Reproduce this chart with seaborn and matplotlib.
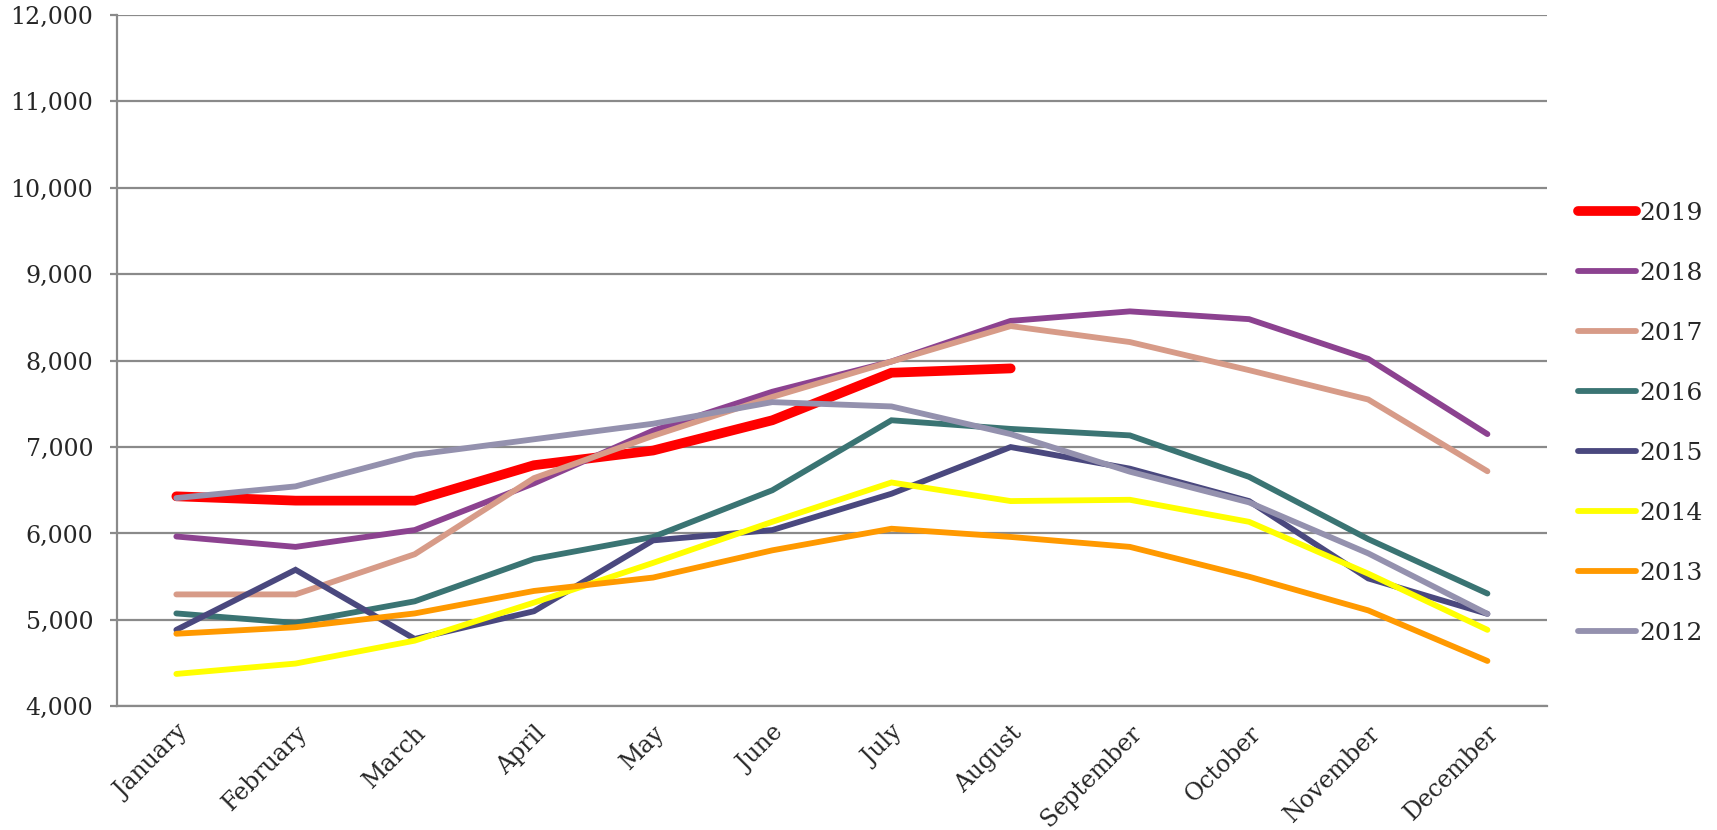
import pandas as pd
import matplotlib
matplotlib.use("Agg")
import matplotlib.pyplot as plt
import seaborn as sns
from matplotlib.ticker import FuncFormatter, FixedLocator

# Data
months = ["January", "February", "March", "April", "May", "June",
          "July", "August", "September", "October", "November", "December"]

y2019 = [6430, 6380, 6380, 6790, 6960, 7310, 7860, 7910]
y2018 = [5965, 5845, 6040, 6580, 7190, 7640, 7990, 8460, 8570, 8480, 8020, 7150]
y2017 = [5295, 5295, 5760, 6640, 7130, 7580, 7990, 8400, 8215, 7890, 7550, 6720]
y2016 = [5075, 4965, 5215, 5705, 5960, 6500, 7310, 7210, 7135, 6655, 5935, 5305]
y2015 = [4885, 5580, 4780, 5100, 5920, 6040, 6460, 7000, 6750, 6375, 5480, 5070]
y2014 = [4375, 4495, 4760, 5200, 5660, 6135, 6590, 6375, 6390, 6135, 5535, 4885]
y2013 = [4840, 4915, 5075, 5335, 5490, 5805, 6055, 5960, 5845, 5500, 5110, 4525]
y2012 = [6410, 6545, 6910, 7090, 7270, 7520, 7470, 7150, 6715, 6360, 5770, 5070]

years = ["2019", "2018", "2017", "2016", "2015", "2014", "2013", "2012"]
series = [y2019, y2018, y2017, y2016, y2015, y2014, y2013, y2012]
colors = ["#FF0000", "#8C4290", "#D79B88", "#3A7473", "#4A487E", "#FFFF00", "#FF9900", "#9491AE"]
widths = [7, 4.2, 4.2, 4.2, 4.2, 4.2, 4.2, 4.2]

sns.set_style("white")
plt.rcParams["font.family"] = ["DejaVu Serif"]

fig = plt.figure(figsize=(17.17, 8.30), dpi=100)
ax = fig.add_axes([0.068, 0.149, 0.833, 0.833])

grid_col = "#8A8A8A"
for yr, vals, col, lw in zip(years, series, colors, widths):
    df = pd.DataFrame({"month": months[:len(vals)], "value": vals})
    sns.lineplot(data=df, x="month", y="value", ax=ax, color=col, linewidth=lw,
                 label=yr, sort=False, solid_capstyle="round", solid_joinstyle="miter")

ax.set_xlim(-0.5, 11.5)
ax.set_ylim(4000, 12000)
ax.set_yticks(range(4000, 12001, 1000))
ax.yaxis.set_major_formatter(FuncFormatter(lambda v, p: f"{int(v):,}"))
ax.yaxis.grid(True, color=grid_col, linewidth=1.6)
ax.set_axisbelow(True)

ax.set_xticks(range(12))
ax.set_xticklabels(months, rotation=45, ha="right", va="top", rotation_mode="anchor")
ax.xaxis.set_minor_locator(FixedLocator([i - 0.5 for i in range(13)]))
ax.tick_params(axis="x", which="major", length=0, pad=11, labelsize=17)
ax.tick_params(axis="x", which="minor", length=5, width=1.6, color=grid_col, direction="out")
ax.tick_params(axis="y", length=5, width=1.6, color=grid_col, pad=12, labelsize=17, left=True)

ax.set_xlabel("")
ax.set_ylabel("")
for side in ["top", "right"]:
    ax.spines[side].set_visible(False)
for side in ["left", "bottom"]:
    ax.spines[side].set_color(grid_col)
    ax.spines[side].set_linewidth(1.6)

leg = ax.legend(loc="upper left", bbox_to_anchor=(1.015, 0.744), frameon=False,
                fontsize=18, handlelength=2.3, handletextpad=0.15, labelspacing=1.48,
                borderaxespad=0)
for h in leg.get_lines():
    h.set_solid_capstyle("round")

fig.savefig("out.png", dpi=100)
